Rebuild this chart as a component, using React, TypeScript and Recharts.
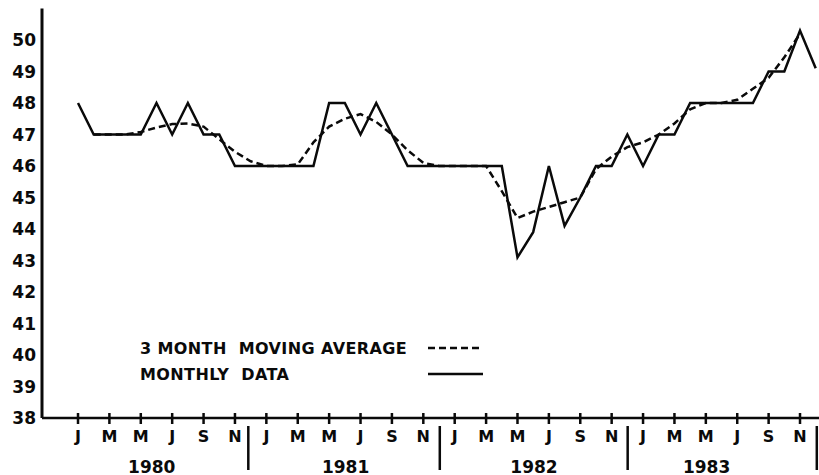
import React from "react";
import { LineChart, Line, XAxis, YAxis, Legend } from "recharts";

// Month index 0 = Jan 1980 ... 47 = Dec 1983
const monthlyData: (number | null)[] = [
  48, 47, 47, 47, 47, 48, 47, 48, 47, 47, 46, 46,
  46, 46, 46, 46, 48, 48, 47, 48, 47, 46, 46, 46,
  46, 46, 46, 46, 43.1, 43.9, 46, 44.1, 45, 46, 46, 47,
  46, 47, 47, 48, 48, 48, 48, 48, 49, 49, 50.3, 49.1,
];

const movingAverage: (number | null)[] = [
  null, 47.0, 47.0, 47.0, 47.08, 47.22, 47.33, 47.35, 47.25, 46.85, 46.45, 46.15,
  46.0, 46.0, 46.05, 46.75, 47.25, 47.5, 47.65, 47.4, 47.0, 46.5, 46.1, 46.0,
  46.0, 46.0, 46.0, 45.2, 44.35, 44.55, 44.7, 44.85, 45.0, 45.9, 46.3, 46.6,
  46.75, 47.0, 47.35, 47.8, 48.0, 48.0, 48.1, 48.45, 48.8, 49.45, 50.2, null,
];

const monthTickLabels = ["J", "M", "M", "J", "S", "N"];
const monthTicks: number[] = [
  0, 2, 4, 6, 8, 10, 12, 14, 16, 18, 20, 22,
  24, 26, 28, 30, 32, 34, 36, 38, 40, 42, 44, 46,
];
const yearLabels = ["1980", "1981", "1982", "1983"];
const yearLabelTicks = [4.7, 17.05, 29.05, 40.05];
const yearSeparatorTicks = [10.85, 23.05, 35.02, 47.07];
const yTicks = [38, 39, 40, 41, 42, 43, 44, 45, 46, 47, 48, 49, 50];

const seriesNames = {
  avg: "3 MONTH  MOVING AVERAGE",
  monthly: "MONTHLY  DATA",
};

const data = monthlyData.map((v, i) => ({
  m: i,
  monthly: v,
  avg: movingAverage[i],
}));

const allXTicks = [...monthTicks, ...yearLabelTicks, ...yearSeparatorTicks];

const FONT = "'DejaVu Sans', sans-serif";
const INK = "#0a0a0a";

const XTick = (props: any) => {
  const { x, y, payload } = props;
  const v = payload.value;
  const mi = monthTicks.indexOf(v);
  if (mi >= 0) {
    return (
      <g>
        <line x1={x} x2={x} y1={y - 5} y2={y + 6} stroke={INK} strokeWidth={2.5} />
        <text
          x={x}
          y={y + 18}
          textAnchor="middle"
          dominantBaseline="central"
          fontFamily={FONT}
          fontWeight="bold"
          fontSize={16}
          fill={INK}
        >
          {monthTickLabels[mi % 6]}
        </text>
      </g>
    );
  }
  const yi = yearLabelTicks.indexOf(v);
  if (yi >= 0) {
    return (
      <text
        x={x}
        y={y + 48.5}
        textAnchor="middle"
        dominantBaseline="central"
        fontFamily={FONT}
        fontWeight="bold"
        fontSize={17}
        fill={INK}
      >
        {yearLabels[yi]}
      </text>
    );
  }
  return <line x1={x} x2={x} y1={y + 8} y2={y + 52} stroke={INK} strokeWidth={2.5} />;
};

const YTick = (props: any) => {
  const { y, payload } = props;
  return (
    <text
      x={36}
      y={y}
      textAnchor="end"
      dominantBaseline="central"
      fontFamily={FONT}
      fontWeight="bold"
      fontSize={17}
      fill={INK}
    >
      {payload.value}
    </text>
  );
};

const renderLegend = (props: any) => {
  const payload = props.payload || [];
  return (
    <svg width={360} height={56}>
      {payload.map((p: any, i: number) => {
        const cy = 18 + i * 26;
        return (
          <g key={i}>
            <text
              x={10}
              y={cy}
              dominantBaseline="central"
              fontFamily={FONT}
              fontWeight="bold"
              fontSize={16}
              letterSpacing={0.4}
              fill={INK}
              style={{ whiteSpace: "pre" }}
            >
              {p.value}
            </text>
            <line
              x1={298}
              x2={353}
              y1={cy}
              y2={cy}
              stroke={INK}
              strokeWidth={2.5}
              strokeDasharray={p.payload && p.payload.strokeDasharray ? p.payload.strokeDasharray : undefined}
            />
          </g>
        );
      })}
    </svg>
  );
};

export default function App() {
  return (
    <div style={{ position: "absolute", left: 0, top: 0, width: 819, height: 475, background: "#fff" }}>
      <LineChart
        width={819}
        height={475}
        data={data}
        margin={{ top: 8.5, right: 0, left: 0, bottom: 0 }}
      >
        <XAxis
          dataKey="m"
          type="number"
          domain={[-2.294, 47.21]}
          allowDataOverflow
          ticks={allXTicks}
          interval={0}
          tickSize={0}
          tickMargin={0}
          tickLine={false}
          height={57}
          axisLine={{ stroke: INK, strokeWidth: 2.5 }}
          tick={<XTick />}
        />
        <YAxis
          type="number"
          domain={[38, 51]}
          allowDataOverflow
          ticks={yTicks}
          interval={0}
          width={42}
          tickSize={0}
          tickMargin={0}
          tickLine={false}
          axisLine={{ stroke: INK, strokeWidth: 3 }}
          tick={<YTick />}
        />
        <Legend
          layout="vertical"
          align="center"
          verticalAlign="middle"
          content={renderLegend}
          wrapperStyle={{ left: 130, top: 330, width: 360, height: 56 }}
        />
        <Line
          name={seriesNames.avg}
          dataKey="avg"
          type="linear"
          stroke={INK}
          strokeWidth={2.5}
          strokeDasharray="7 4"
          dot={false}
          activeDot={false}
          isAnimationActive={false}
        />
        <Line
          name={seriesNames.monthly}
          dataKey="monthly"
          type="linear"
          stroke={INK}
          strokeWidth={2.5}
          dot={false}
          activeDot={false}
          isAnimationActive={false}
        />
      </LineChart>
    </div>
  );
}
